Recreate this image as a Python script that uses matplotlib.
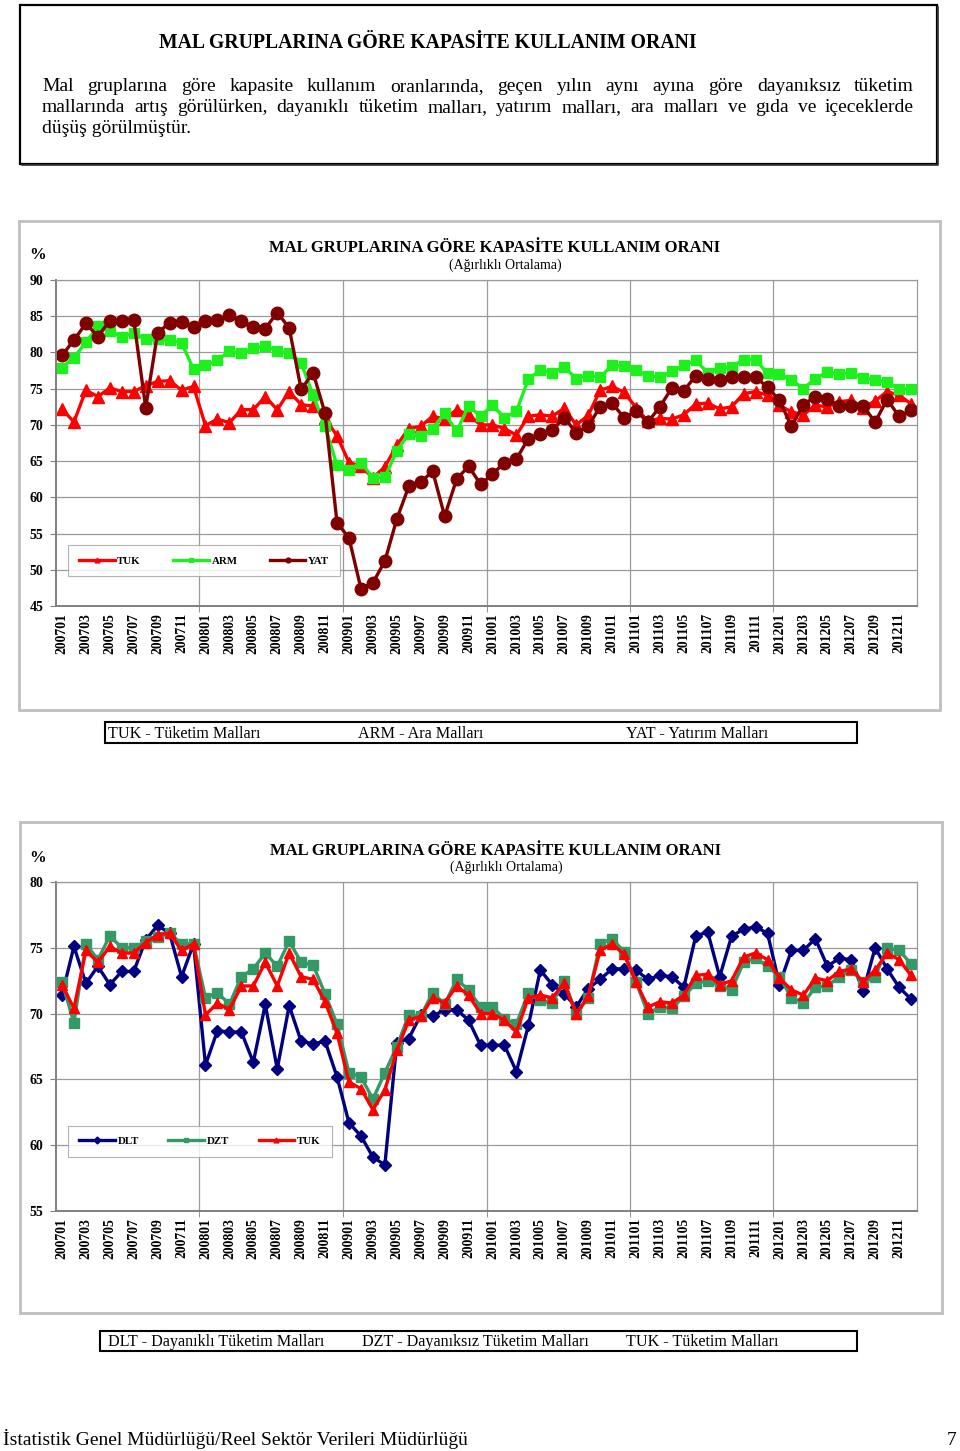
import matplotlib
matplotlib.use("Agg")
import matplotlib.pyplot as plt
from matplotlib.lines import Line2D
from matplotlib.patches import Rectangle

W, H = 960, 1451
SERIF = ["Liberation Serif", "DejaVu Serif"]

# categories: 200701 ... 201212 (labels every second month)
months = [f"{y}{m:02d}" for y in range(2007, 2013) for m in range(1, 13)]

# chart 1
tuk = [72.2, 70.4, 74.8, 73.9, 75.1, 74.6, 74.6, 75.4, 76.0, 76.1, 74.8, 75.3,
       69.9, 70.8, 70.3, 72.1, 72.1, 73.9, 72.1, 74.6, 72.8, 72.6, 70.9, 68.5,
       64.8, 64.3, 62.7, 64.2, 67.2, 69.5, 69.8, 71.2, 70.8, 72.1, 71.4, 70.0,
       70.0, 69.5, 68.6, 71.2, 71.4, 71.2, 72.3, 70.0, 71.3, 74.8, 75.3, 74.5,
       72.4, 70.5, 70.9, 70.8, 71.4, 72.9, 73.0, 72.2, 72.5, 74.3, 74.6, 74.1,
       72.7, 71.8, 71.4, 72.7, 72.5, 73.2, 73.4, 72.4, 73.3, 74.6, 74.1, 72.9]
arm = [77.9, 79.3, 81.4, 83.6, 82.9, 82.2, 82.7, 81.8, 81.8, 81.7, 81.3, 77.7,
       78.2, 78.9, 80.2, 79.9, 80.6, 80.9, 80.2, 79.9, 78.6, 74.1, 69.8, 64.4,
       63.8, 64.8, 62.7, 62.8, 66.4, 68.8, 68.4, 69.5, 71.6, 69.1, 72.6, 71.2,
       72.7, 71.0, 71.9, 76.3, 77.6, 77.2, 78.0, 76.4, 76.8, 76.6, 78.2, 78.1,
       77.6, 76.7, 76.6, 77.4, 78.2, 78.9, 77.2, 77.9, 78.0, 79.0, 79.0, 77.1,
       77.0, 76.2, 75.0, 76.4, 77.3, 77.0, 77.1, 76.5, 76.2, 75.9, 75.0, 74.9]
yat = [79.6, 81.7, 84.0, 82.2, 84.4, 84.4, 84.5, 72.4, 82.7, 84.1, 84.2, 83.5,
       84.4, 84.5, 85.1, 84.4, 83.5, 83.3, 85.5, 83.4, 74.9, 77.2, 71.6, 56.5,
       54.4, 47.4, 48.2, 51.2, 57.0, 61.5, 62.1, 63.6, 57.4, 62.5, 64.3, 61.8,
       63.2, 64.8, 65.3, 68.1, 68.8, 69.3, 71.0, 68.9, 69.8, 72.5, 73.0, 71.0,
       71.9, 70.4, 72.5, 75.1, 74.7, 76.8, 76.4, 76.2, 76.6, 76.6, 76.6, 75.2,
       73.4, 69.8, 72.8, 73.9, 73.6, 72.6, 72.6, 72.6, 70.4, 73.5, 71.2, 72.0]

# chart 2
dlt = [71.4, 75.1, 72.3, 73.6, 72.2, 73.2, 73.2, 75.6, 76.7, 76.1, 72.8, 75.3,
       66.1, 68.7, 68.6, 68.6, 66.3, 70.7, 65.8, 70.6, 67.9, 67.7, 67.9, 65.2,
       61.7, 60.7, 59.1, 58.5, 67.8, 68.1, 69.9, 69.8, 70.3, 70.3, 69.5, 67.6,
       67.6, 67.6, 65.6, 69.1, 73.3, 72.2, 71.5, 70.5, 71.9, 72.6, 73.4, 73.4,
       73.3, 72.6, 72.9, 72.8, 72.0, 75.9, 76.2, 72.8, 75.9, 76.4, 76.6, 76.1,
       72.2, 74.8, 74.8, 75.7, 73.6, 74.2, 74.1, 71.7, 75.0, 73.4, 72.0, 71.1]
dzt = [72.4, 69.3, 75.3, 74.1, 75.9, 75.0, 75.0, 75.5, 75.8, 76.1, 75.3, 75.3,
       71.2, 71.6, 70.7, 72.8, 73.4, 74.6, 73.6, 75.5, 73.9, 73.7, 71.5, 69.2,
       65.5, 65.2, 63.5, 65.5, 67.5, 69.9, 69.8, 71.6, 70.7, 72.6, 71.8, 70.5,
       70.5, 69.6, 69.2, 71.6, 71.0, 70.8, 72.5, 70.0, 71.2, 75.3, 75.7, 74.7,
       72.4, 70.0, 70.5, 70.4, 71.3, 72.3, 72.5, 72.1, 71.8, 73.9, 74.2, 73.6,
       72.8, 71.2, 70.8, 72.0, 72.1, 72.8, 73.3, 72.4, 72.8, 75.0, 74.8, 73.8]

title = "MAL GRUPLARINA GÖRE KAPASİTE KULLANIM ORANI"
subtitle = "(Ağırlıklı Ortalama)"
para = ["Mal gruplarına göre kapasite kullanım oranlarında, geçen yılın aynı ayına göre dayanıksız tüketim",
        "mallarında artış görülürken, dayanıklı tüketim malları, yatırım malları, ara malları ve gıda ve içeceklerde",
        "düşüş görülmüştür."]

fig = plt.figure(figsize=(W / 100, H / 100), dpi=100)
bg = fig.add_axes([0, 0, 1, 1])
bg.set_xlim(0, W)
bg.set_ylim(H, 0)
bg.axis("off")
renderer = fig.canvas.get_renderer()


def box(x0, y0, x1, y1, color, lw):
    bg.add_patch(Rectangle((x0, y0), x1 - x0, y1 - y0, fill=False,
                           edgecolor=color, linewidth=lw))


def justify(lines, x0, x1, y0, step, size):
    for k, line in enumerate(lines):
        y = y0 + k * step
        words = line.split()
        if k == len(lines) - 1:
            bg.text(x0, y, line, fontsize=size, family=SERIF, va="baseline")
            continue
        texts = [bg.text(0, y, w, fontsize=size, family=SERIF, va="baseline") for w in words]
        widths = [t.get_window_extent(renderer).width for t in texts]
        gap = (x1 - x0 - sum(widths)) / (len(words) - 1)
        x = x0
        for t, w in zip(texts, widths):
            t.set_x(x)
            x += w + gap


# top text box
box(20, 5, 937, 164, "black", 1.6)
bg.plot([22, 938, 938], [165, 165, 7], color="#333333", lw=1.2)
bg.text(428, 48, title, fontsize=14.2, weight="bold", family=SERIF, ha="center", va="baseline")
justify(para, 42, 914, 91, 21, 14)


def chart(top, bottom, series, ymin, ymax, legend_bbox, frame):
    box(*frame, "#bfbfbf", 2)
    ax = fig.add_axes([56 / W, 1 - bottom / H, (917 - 56) / W, (bottom - top) / H])
    x = list(range(len(months)))
    handles = []
    for name, vals, color, marker, ms, lw in series:
        ax.plot(x, vals, color=color, lw=lw, marker=marker, ms=ms,
                markerfacecolor=color, markeredgecolor=color)
        handles.append(Line2D([], [], color=color, lw=lw, marker=marker, ms=3.5, label=name))
    ax.set_xlim(-0.5, len(months) - 0.5)
    ax.set_ylim(ymin, ymax)
    ax.set_yticks(range(ymin, ymax + 1, 5))
    ax.set_xticks(x[::2])
    ax.set_xticklabels(months[::2], rotation=90, fontsize=9.8, weight="bold", family=SERIF)
    ax.set_xticks([11.5, 23.5, 35.5, 47.5, 59.5], minor=True)
    for lab in ax.get_yticklabels():
        lab.set_fontsize(10)
        lab.set_fontweight("bold")
        lab.set_family(SERIF)
    ax.tick_params(axis="x", which="major", length=0, pad=5)
    ax.tick_params(axis="x", which="minor", length=4, color="#808080")
    ax.tick_params(axis="y", length=4, color="#808080", pad=5)
    ax.grid(axis="y", color="#9a9a9a", lw=0.9)
    ax.grid(axis="x", which="minor", color="#9a9a9a", lw=0.9)
    ax.set_axisbelow(True)
    for s in ["top", "right"]:
        ax.spines[s].set_color("#9a9a9a")
        ax.spines[s].set_linewidth(0.9)
    for s in ["left", "bottom"]:
        ax.spines[s].set_color("#7f7f7f")
        ax.spines[s].set_linewidth(1.4)
    leg = ax.legend(handles=handles, ncol=3, mode="expand", bbox_to_anchor=legend_bbox,
                    loc="lower left", frameon=True, fancybox=False, handlelength=3.3,
                    handletextpad=0.25, borderaxespad=0, borderpad=1.0,
                    prop={"family": SERIF, "weight": "bold", "size": 7.8})
    leg.get_frame().set_edgecolor("#a0a0a0")
    leg.get_frame().set_linewidth(0.8)
    return ax


chart(280, 606,
      [("TUK", tuk, "#ff0000", "^", 8, 2.4),
       ("ARM", arm, "#1ef01e", "s", 7, 2.4),
       ("YAT", yat, "#800000", "o", 9, 2.4)],
      45, 90, (0.014, 0.091, 0.316, 0.117), (19, 221, 940, 710))
bg.text(38, 259, "%", fontsize=12, weight="bold", family=SERIF, ha="center", va="baseline")
bg.text(495, 252, title, fontsize=12, weight="bold", family=SERIF, ha="center", va="baseline")
bg.text(505, 269, subtitle, fontsize=10, family=SERIF, ha="center", va="baseline")

box(105, 722, 857, 743, "black", 1.5)
for xx, s in [(108, "TUK - Tüketim Malları"), (358, "ARM - Ara Malları"), (626, "YAT - Yatırım Malları")]:
    bg.text(xx, 738, s, fontsize=11.6, family=SERIF, va="baseline")

chart(882, 1211,
      [("DLT", dlt, "#000080", "D", 5.8, 2.4),
       ("DZT", dzt, "#339966", "s", 6.5, 2.4),
       ("TUK", tuk, "#ff0000", "^", 7, 2.4)],
      55, 80, (0.014, 0.164, 0.306, 0.112), (20, 822, 942, 1313))
bg.text(38, 862, "%", fontsize=12, weight="bold", family=SERIF, ha="center", va="baseline")
bg.text(496, 855, title, fontsize=12, weight="bold", family=SERIF, ha="center", va="baseline")
bg.text(506, 871, subtitle, fontsize=10, family=SERIF, ha="center", va="baseline")

box(100, 1331, 857, 1351, "black", 1.5)
for xx, s in [(108, "DLT - Dayanıklı Tüketim Malları"), (362, "DZT - Dayanıksız Tüketim Malları"),
              (626, "TUK - Tüketim Malları")]:
    bg.text(xx, 1346, s, fontsize=11.6, family=SERIF, va="baseline")

bg.text(3, 1445, "İstatistik Genel Müdürlüğü/Reel Sektör Verileri Müdürlüğü", fontsize=14,
        family=SERIF, va="baseline")
bg.text(957, 1445, "7", fontsize=14, family=SERIF, ha="right", va="baseline")

fig.savefig("out.png", dpi=100)
